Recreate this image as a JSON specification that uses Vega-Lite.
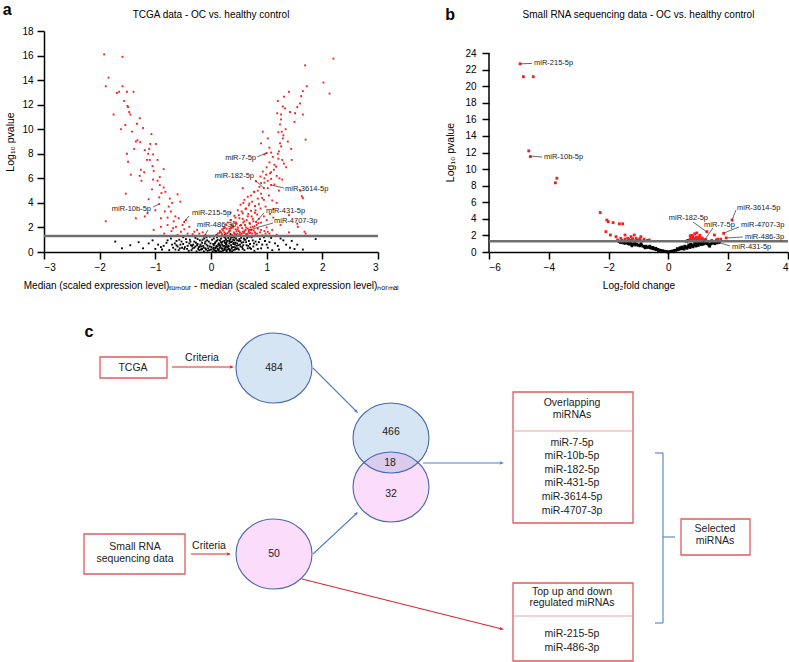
{
"$schema": "https://vega.github.io/schema/vega-lite/v6.json",
"padding": {"left": 2, "top": 2, "right": 0, "bottom": 0},
"background": "white",
"config": {
 "view": {"stroke": null},
 "font": "Liberation Sans",
 "axis": {"grid": false, "domainColor": "#000", "domainWidth": 1.5, "tickColor": "#000", "tickWidth": 1.5, "tickSize": 7, "labelFont": "Liberation Sans", "labelFontSize": 10, "labelColor": "#000", "labelPadding": 4, "titleFont": "Liberation Sans", "titleFontSize": 10.5, "titleFontWeight": "normal", "titleColor": "#000"}
},
"datasets": {
 "aRed": [
{"x":-1.92,"y":16.1},{"x":-1.59,"y":15.9},{"x":-1.84,"y":14.2},{"x":-1.89,"y":13.5},{"x":-1.59,"y":13.5},{"x":-1.65,"y":13.05},{"x":-1.69,"y":12.95},{"x":-1.51,"y":13.05},{"x":-1.39,"y":13.05},{"x":-1.56,"y":12.3},{"x":-1.5,"y":11.9},{"x":-1.49,"y":11.8},{"x":-1.75,"y":11.2},{"x":-1.45,"y":11.2},{"x":-1.47,"y":11.4},{"x":-1.28,"y":10.9},{"x":-1.33,"y":10.45},{"x":-1.54,"y":10.35},{"x":-1.62,"y":10.0},{"x":-1.42,"y":9.8},{"x":-1.07,"y":9.6},{"x":-1.32,"y":9.1},{"x":-1.35,"y":9.0},{"x":-1.27,"y":8.95},{"x":-1.09,"y":8.8},{"x":-0.99,"y":8.8},{"x":-1.19,"y":8.3},{"x":-1.11,"y":8.4},{"x":-1.13,"y":8.0},{"x":-1.04,"y":7.95},{"x":-1.51,"y":8.0},{"x":-1.15,"y":7.5},{"x":-1.1,"y":7.5},{"x":-0.96,"y":7.5},{"x":-1.49,"y":7.35},{"x":-1.05,"y":7.0},{"x":-1.26,"y":6.7},{"x":-0.85,"y":6.75},{"x":-1.2,"y":6.5},{"x":-1.03,"y":6.6},{"x":-0.92,"y":6.1},{"x":-1.04,"y":5.9},{"x":-1.44,"y":6.3},{"x":-1.25,"y":5.8},{"x":-0.96,"y":5.8},{"x":-0.92,"y":5.45},{"x":-0.85,"y":5.25},{"x":-0.89,"y":4.8},{"x":-1.53,"y":4.75},{"x":-0.6,"y":4.7},{"x":-0.82,"y":4.9},{"x":-0.74,"y":4.35},{"x":-0.93,"y":4.45},{"x":-0.7,"y":4.0},{"x":-0.55,"y":4.1},{"x":-0.76,"y":3.7},{"x":-0.83,"y":3.3},{"x":-0.72,"y":3.3},{"x":-0.64,"y":2.9},{"x":-0.58,"y":2.75},{"x":-0.9,"y":2.75},{"x":-1.19,"y":2.9},{"x":-1.89,"y":2.5},{"x":-0.67,"y":2.5},{"x":-0.51,"y":2.2},{"x":-0.78,"y":2.2},{"x":-0.63,"y":2.05},{"x":-0.9,"y":2.05},{"x":-0.48,"y":1.85},{"x":-0.39,"y":2.05},{"x":-0.54,"y":1.65},{"x":-0.71,"y":1.7},{"x":-1.03,"y":1.8},{"x":-0.3,"y":1.65},{"x":-0.21,"y":1.5},{"x":-0.84,"y":1.5},{"x":-0.42,"y":1.5},{"x":-0.93,"y":3.9},{"x":-0.48,"y":2.44},{"x":-1.35,"y":2.75},{"x":-1.14,"y":3.15},{"x":-0.1,"y":1.4},{"x":-0.15,"y":1.6},{"x":-0.25,"y":1.8},{"x":-0.33,"y":1.45},{"x":-0.6,"y":1.4},{"x":-0.68,"y":1.95},{"x":-1.0,"y":3.4},{"x":-1.12,"y":4.3},{"x":-1.06,"y":5.1},{"x":-1.28,"y":6.2},{"x":-1.38,"y":8.4},{"x":-1.22,"y":10.1},{"x":-0.78,"y":2.8},{"x":-0.45,"y":2.6},
{"x":2.2,"y":15.75},{"x":1.69,"y":15.2},{"x":2.02,"y":13.8},{"x":2.13,"y":12.9},{"x":1.72,"y":13.5},{"x":1.65,"y":13.1},{"x":1.4,"y":13.05},{"x":1.31,"y":12.65},{"x":1.62,"y":12.7},{"x":1.2,"y":12.3},{"x":1.6,"y":12.1},{"x":1.29,"y":11.85},{"x":1.33,"y":11.7},{"x":1.42,"y":11.4},{"x":1.19,"y":11.3},{"x":1.26,"y":11.2},{"x":1.65,"y":11.2},{"x":1.51,"y":11.3},{"x":1.26,"y":10.8},{"x":1.24,"y":10.4},{"x":1.21,"y":9.75},{"x":1.27,"y":9.8},{"x":0.93,"y":9.8},{"x":1.29,"y":9.25},{"x":1.7,"y":9.15},{"x":1.02,"y":9.25},{"x":1.24,"y":8.85},{"x":0.9,"y":8.85},{"x":1.05,"y":8.5},{"x":1.22,"y":8.2},{"x":1.08,"y":8.1},{"x":0.96,"y":7.95},{"x":1.11,"y":7.75},{"x":1.21,"y":7.6},{"x":1.28,"y":7.5},{"x":1.31,"y":7.2},{"x":1.05,"y":7.3},{"x":1.17,"y":6.95},{"x":1.0,"y":6.9},{"x":1.13,"y":6.7},{"x":0.93,"y":6.55},{"x":1.06,"y":6.4},{"x":0.99,"y":6.3},{"x":0.89,"y":6.15},{"x":1.23,"y":6.0},{"x":1.08,"y":5.95},{"x":0.81,"y":5.75},{"x":0.96,"y":5.65},{"x":1.14,"y":5.5},{"x":0.87,"y":5.3},{"x":0.57,"y":5.2},{"x":1.02,"y":5.2},{"x":1.63,"y":4.55},{"x":0.77,"y":4.9},{"x":0.9,"y":4.75},{"x":0.72,"y":4.6},{"x":0.84,"y":4.35},{"x":0.6,"y":4.25},{"x":0.95,"y":4.25},{"x":0.69,"y":3.95},{"x":0.53,"y":3.85},{"x":0.79,"y":3.75},{"x":0.89,"y":3.55},{"x":0.63,"y":3.55},{"x":0.48,"y":3.4},{"x":0.72,"y":3.35},{"x":0.35,"y":3.2},{"x":0.57,"y":3.15},{"x":0.83,"y":3.05},{"x":0.42,"y":2.95},{"x":0.66,"y":2.9},{"x":0.51,"y":2.75},{"x":0.75,"y":2.7},{"x":0.36,"y":2.6},{"x":0.6,"y":2.5},{"x":0.45,"y":2.4},{"x":0.69,"y":2.35},{"x":0.27,"y":2.25},{"x":0.54,"y":2.2},{"x":0.78,"y":2.1},{"x":0.39,"y":2.05},{"x":0.63,"y":2.0},{"x":0.23,"y":1.95},{"x":0.48,"y":1.85},{"x":0.72,"y":1.8},{"x":0.33,"y":1.7},{"x":0.57,"y":1.65},{"x":0.18,"y":1.6},{"x":0.42,"y":1.5},{"x":0.66,"y":1.5},{"x":0.27,"y":1.45},{"x":0.51,"y":1.45},{"x":1.68,"y":1.65},{"x":1.56,"y":2.05},
{"x":1.0,"y":8.06},{"x":0.95,"y":5.21},{"x":1.08,"y":5.46},{"x":0.81,"y":2.44},{"x":0.68,"y":1.79},
{"x":0.12,"y":1.5},{"x":0.16,"y":1.7},{"x":0.2,"y":1.45},{"x":0.24,"y":1.6},{"x":0.28,"y":1.9},{"x":0.3,"y":1.55},{"x":0.34,"y":1.75},{"x":0.38,"y":1.4},{"x":0.41,"y":1.6},{"x":0.44,"y":1.85},{"x":0.47,"y":1.5},{"x":0.5,"y":1.7},{"x":0.53,"y":1.4},{"x":0.56,"y":1.95},{"x":0.59,"y":1.55},{"x":0.62,"y":1.8},{"x":0.65,"y":1.4},{"x":0.68,"y":1.65},{"x":0.71,"y":2.0},{"x":0.74,"y":1.5},{"x":0.77,"y":1.75},{"x":0.8,"y":1.45},{"x":0.84,"y":1.9},{"x":0.88,"y":1.6},{"x":0.92,"y":1.35},{"x":0.96,"y":1.7},{"x":1.0,"y":2.0},{"x":1.05,"y":1.5},{"x":1.1,"y":1.8},{"x":1.18,"y":1.4},{"x":1.25,"y":2.2},{"x":1.4,"y":1.6},{"x":0.4,"y":2.1},{"x":0.46,"y":2.3},{"x":0.52,"y":2.15},{"x":0.58,"y":2.4},{"x":0.64,"y":2.6},{"x":0.7,"y":2.3},{"x":0.76,"y":2.5},{"x":0.82,"y":2.2},{"x":0.86,"y":2.7},{"x":0.9,"y":2.4},{"x":0.95,"y":2.9},{"x":1.0,"y":2.6},{"x":1.06,"y":3.1},{"x":1.12,"y":2.8},{"x":0.3,"y":2.4},{"x":0.25,"y":2.0},{"x":0.2,"y":1.85},{"x":0.35,"y":2.6},{"x":0.44,"y":2.8},{"x":0.5,"y":3.0},{"x":0.55,"y":3.3},{"x":0.62,"y":3.5},{"x":0.68,"y":3.8},{"x":0.74,"y":4.1},{"x":0.8,"y":3.4},{"x":0.86,"y":3.9},{"x":0.92,"y":4.4},{"x":0.98,"y":3.7},{"x":1.04,"y":4.6},{"x":1.1,"y":4.2},{"x":0.58,"y":4.0},{"x":0.66,"y":4.5},{"x":0.78,"y":4.9},{"x":0.84,"y":5.0},{"x":0.9,"y":5.6},{"x":0.96,"y":6.0},{"x":1.02,"y":5.8},{"x":1.08,"y":6.5},{"x":1.14,"y":7.1},{"x":1.18,"y":6.2},{"x":1.2,"y":8.0},{"x":1.26,"y":8.6},{"x":1.3,"y":9.5},{"x":1.34,"y":10.0},{"x":1.38,"y":9.0},{"x":1.44,"y":8.4},{"x":1.5,"y":10.6},{"x":1.55,"y":11.8},{"x":1.45,"y":7.5},{"x":1.35,"y":6.9},{"x":1.28,"y":5.9},{"x":1.22,"y":5.0},{"x":1.18,"y":4.0},{"x":1.12,"y":3.5},{"x":1.6,"y":5.0},{"x":1.65,"y":4.4},{"x":1.7,"y":1.5},{"x":1.55,"y":2.3},{"x":1.4,"y":3.0},
{"x":0.15,"y":1.55},{"x":0.22,"y":1.75},{"x":0.26,"y":1.5},{"x":0.32,"y":1.65},{"x":0.36,"y":1.95},{"x":0.43,"y":1.45},{"x":0.46,"y":1.7},{"x":0.52,"y":1.6},{"x":0.55,"y":1.5},{"x":0.6,"y":1.7},{"x":0.63,"y":1.45},{"x":0.66,"y":1.9},{"x":0.7,"y":1.55},{"x":0.73,"y":1.8},{"x":0.79,"y":1.6},{"x":0.83,"y":1.5},{"x":0.9,"y":1.8},{"x":0.98,"y":1.5},{"x":1.02,"y":1.65},{"x":0.37,"y":2.2},{"x":0.48,"y":2.0},{"x":0.61,"y":2.2},{"x":0.75,"y":2.05},{"x":0.85,"y":2.35},{"x":0.33,"y":1.9},{"x":0.41,"y":2.45},{"x":0.57,"y":2.7},{"x":0.67,"y":3.1},{"x":0.73,"y":2.9},{"x":0.79,"y":3.2}
 ],
 "aBlack": [
{"x":-1.72,"y":0.85},{"x":-1.45,"y":0.55},{"x":-1.22,"y":0.3},{"x":-1.05,"y":0.95},{"x":-0.95,"y":0.6},{"x":-0.88,"y":0.2},{"x":-0.8,"y":0.75},{"x":-0.72,"y":1.1},{"x":-0.68,"y":0.35},{"x":-0.62,"y":0.9},{"x":-0.58,"y":0.15},{"x":-0.55,"y":0.6},{"x":-0.5,"y":1.2},{"x":-0.47,"y":0.4},{"x":-0.44,"y":0.8},{"x":-0.4,"y":0.1},{"x":-0.38,"y":1.0},{"x":-0.36,"y":0.55},{"x":-0.33,"y":0.3},{"x":-0.3,"y":0.85},{"x":-0.28,"y":1.15},{"x":-0.26,"y":0.05},{"x":-0.24,"y":0.65},{"x":-0.22,"y":0.4},{"x":-0.2,"y":0.95},{"x":-0.18,"y":0.2},{"x":-0.16,"y":0.75},{"x":-0.14,"y":0.5},{"x":-0.12,"y":1.1},{"x":-0.1,"y":0.3},{"x":-0.08,"y":0.6},{"x":-0.06,"y":0.1},{"x":-0.04,"y":0.85},{"x":-0.02,"y":0.45},{"x":0.0,"y":0.2},{"x":0.02,"y":1.0},{"x":0.04,"y":0.65},{"x":0.05,"y":0.35},{"x":0.07,"y":0.1},{"x":0.08,"y":0.8},{"x":0.1,"y":0.5},{"x":0.11,"y":1.2},{"x":0.12,"y":0.25},{"x":0.14,"y":0.7},{"x":0.15,"y":0.05},{"x":0.16,"y":0.95},{"x":0.17,"y":0.45},{"x":0.18,"y":1.1},{"x":0.19,"y":0.3},{"x":0.2,"y":0.6},{"x":0.21,"y":0.85},{"x":0.22,"y":0.15},{"x":0.23,"y":1.25},{"x":0.24,"y":0.5},{"x":0.25,"y":0.75},{"x":0.26,"y":0.35},{"x":0.27,"y":1.0},{"x":0.28,"y":0.6},{"x":0.29,"y":0.2},{"x":0.3,"y":0.9},{"x":0.31,"y":1.15},{"x":0.32,"y":0.45},{"x":0.33,"y":0.7},{"x":0.34,"y":0.1},{"x":0.35,"y":1.05},{"x":0.36,"y":0.55},{"x":0.37,"y":0.3},{"x":0.38,"y":0.85},{"x":0.39,"y":1.2},{"x":0.4,"y":0.65},{"x":0.41,"y":0.4},{"x":0.42,"y":0.95},{"x":0.43,"y":0.2},{"x":0.44,"y":0.75},{"x":0.45,"y":1.1},{"x":0.46,"y":0.5},{"x":0.48,"y":0.3},{"x":0.5,"y":0.9},{"x":0.52,"y":0.6},{"x":0.54,"y":1.15},{"x":0.56,"y":0.4},{"x":0.58,"y":0.8},{"x":0.6,"y":0.15},{"x":0.62,"y":1.0},{"x":0.64,"y":0.55},{"x":0.66,"y":0.3},{"x":0.68,"y":0.9},{"x":0.7,"y":0.65},{"x":0.73,"y":1.2},{"x":0.76,"y":0.45},{"x":0.8,"y":0.85},{"x":0.84,"y":0.25},{"x":0.88,"y":1.05},{"x":0.92,"y":0.6},{"x":0.97,"y":0.9},{"x":1.02,"y":0.35},{"x":1.08,"y":1.15},{"x":1.15,"y":0.7},{"x":1.22,"y":0.2},{"x":1.3,"y":0.95},{"x":1.42,"y":0.35},{"x":1.55,"y":0.6},{"x":1.65,"y":0.2},{"x":1.88,"y":1.05},
{"x":0.03,"y":0.05},{"x":0.06,"y":0.15},{"x":0.09,"y":0.08},{"x":0.13,"y":0.12},{"x":0.18,"y":0.02},{"x":0.21,"y":0.1},{"x":0.25,"y":0.18},{"x":0.28,"y":0.08},{"x":0.32,"y":0.25},{"x":0.35,"y":0.15},{"x":0.38,"y":0.05},{"x":0.05,"y":0.55},{"x":0.09,"y":0.4},{"x":0.13,"y":0.6},{"x":0.16,"y":0.35},{"x":0.2,"y":0.28},{"x":0.24,"y":0.9},{"x":0.27,"y":0.45},{"x":0.3,"y":0.38},{"x":0.33,"y":0.95},{"x":0.36,"y":0.8},{"x":0.4,"y":1.0},{"x":0.43,"y":0.6},{"x":0.47,"y":0.7},{"x":0.5,"y":0.2},{"x":0.53,"y":0.45},{"x":-0.05,"y":0.3},{"x":-0.09,"y":0.2},{"x":-0.13,"y":0.05},{"x":-0.17,"y":0.45},{"x":-0.21,"y":0.15},{"x":-0.25,"y":0.55},{"x":-0.3,"y":0.35},{"x":-0.35,"y":0.15},{"x":-0.42,"y":0.5},{"x":-0.48,"y":0.25},{"x":-0.53,"y":0.85},{"x":-0.6,"y":0.45},{"x":-0.65,"y":0.7},{"x":-0.75,"y":0.15},{"x":-0.85,"y":0.5},{"x":-1.0,"y":0.25},{"x":-1.12,"y":0.7},{"x":0.15,"y":1.3},{"x":0.2,"y":1.35},{"x":0.25,"y":1.4},{"x":0.3,"y":1.28},{"x":0.35,"y":1.45},{"x":0.4,"y":1.3},{"x":0.1,"y":1.38},{"x":0.45,"y":1.36},{"x":0.55,"y":1.3},{"x":0.6,"y":1.0},{"x":0.65,"y":1.15},{"x":0.7,"y":0.35},{"x":0.75,"y":0.95},{"x":0.78,"y":0.1},{"x":0.82,"y":0.6},{"x":0.9,"y":0.3},{"x":0.95,"y":1.2},{"x":1.0,"y":0.6},{"x":1.05,"y":0.8},{"x":1.1,"y":0.15},{"x":1.2,"y":0.5},{"x":1.25,"y":1.1},{"x":1.35,"y":0.6},{"x":1.45,"y":0.9},{"x":1.5,"y":0.25},{"x":-0.02,"y":1.25},{"x":-0.07,"y":0.95},{"x":-0.11,"y":0.7},{"x":-0.15,"y":1.0},{"x":-0.19,"y":0.6},{"x":-0.23,"y":0.25},{"x":-0.27,"y":0.75},{"x":-0.32,"y":0.6},{"x":-0.37,"y":0.85},{"x":-0.45,"y":1.05},{"x":-0.52,"y":0.35},{"x":-0.57,"y":1.0},{"x":-0.64,"y":0.2},{"x":-0.7,"y":0.6},{"x":-0.78,"y":0.95},{"x":-0.9,"y":0.4},{"x":-1.3,"y":0.8},{"x":-1.6,"y":0.3},
{"x":0.01,"y":0.4},{"x":0.04,"y":0.25},{"x":0.07,"y":0.7},{"x":0.1,"y":0.9},{"x":0.12,"y":0.45},{"x":0.14,"y":0.2},{"x":0.16,"y":0.55},{"x":0.19,"y":0.75},{"x":0.22,"y":0.5},{"x":0.24,"y":0.3},{"x":0.26,"y":1.1},{"x":0.28,"y":0.8},{"x":0.31,"y":0.5},{"x":0.33,"y":0.2},{"x":0.36,"y":1.2},{"x":0.38,"y":0.4},{"x":0.41,"y":0.75},{"x":0.44,"y":0.35},{"x":0.47,"y":0.95},{"x":0.49,"y":0.55},{"x":0.51,"y":1.05},{"x":0.55,"y":0.75},{"x":0.57,"y":0.25},{"x":0.59,"y":1.1},{"x":0.63,"y":0.8},{"x":0.67,"y":0.5},{"x":0.69,"y":1.25},{"x":0.72,"y":0.25},{"x":0.77,"y":0.7},{"x":0.86,"y":0.8},{"x":-0.01,"y":0.7},{"x":-0.03,"y":0.15},{"x":-0.06,"y":0.5},{"x":-0.08,"y":1.2},{"x":-0.1,"y":0.85},{"x":-0.13,"y":0.35},{"x":-0.16,"y":0.25},{"x":-0.2,"y":0.45},{"x":-0.24,"y":1.05},{"x":-0.28,"y":0.45},{"x":-0.34,"y":0.5},{"x":-0.39,"y":0.7},{"x":-0.43,"y":0.25},{"x":-0.5,"y":0.65},{"x":-0.56,"y":0.3},{"x":-0.62,"y":0.55},{"x":0.12,"y":1.0},{"x":0.18,"y":0.8},{"x":0.27,"y":0.65},{"x":0.34,"y":0.85},{"x":0.4,"y":0.15},{"x":0.46,"y":0.25},{"x":0.53,"y":0.9},{"x":0.58,"y":0.55},{"x":0.25,"y":1.22},{"x":0.33,"y":1.32},{"x":0.42,"y":1.18},{"x":0.05,"y":1.1},{"x":0.08,"y":0.3},{"x":0.15,"y":0.6}
 ],
 "aLinks": [
{"x":0.83,"y":7.75,"x2":1.0,"y2":8.06},{"x":0.79,"y":5.86,"x2":0.95,"y2":5.21},{"x":1.311,"y":5.21,"x2":1.078,"y2":5.46},{"x":-1.04,"y":3.66,"x2":-0.93,"y2":3.91},{"x":-0.395,"y":2.93,"x2":-0.485,"y2":2.44},{"x":-0.054,"y":1.79,"x2":-0.18,"y2":0.81},{"x":0.952,"y":3.18,"x2":0.808,"y2":2.44},{"x":1.114,"y":2.36,"x2":0.682,"y2":1.79}
 ],
 "aLabelsEnd": [
{"x":0.808,"y":7.65,"t":"miR-7-5p"},{"x":0.772,"y":6.19,"t":"miR-182-5p"},{"x":-1.078,"y":3.5,"t":"miR-10b-5p"}
 ],
 "aLabelsStart": [
{"x":1.329,"y":5.13,"t":"miR-3614-5p"},{"x":-0.342,"y":3.18,"t":"miR-215-5p"},{"x":-0.252,"y":2.2,"t":"miR-486-3p"},{"x":0.988,"y":3.34,"t":"miR-431-5p"},{"x":1.132,"y":2.52,"t":"miR-4707-3p"}
 ],
 "bRed": [
{"x":-4.96,"y":22.7},{"x":-4.85,"y":21.15},{"x":-4.52,"y":21.15},{"x":-4.67,"y":12.2},{"x":-4.62,"y":11.5},{"x":-3.73,"y":8.9},{"x":-3.78,"y":8.35},{"x":-2.28,"y":4.75},{"x":-2.06,"y":3.85},{"x":-2.01,"y":3.65},{"x":-1.85,"y":3.55},{"x":-1.64,"y":3.4},{"x":-1.53,"y":3.4},{"x":-2.09,"y":2.45},{"x":-1.94,"y":2.05},{"x":-1.75,"y":1.85},{"x":-1.59,"y":1.65},{"x":-1.45,"y":2.05},{"x":-1.36,"y":1.65},{"x":-1.25,"y":1.85},{"x":-1.14,"y":2.05},{"x":-1.08,"y":1.65},{"x":-0.92,"y":1.85},{"x":-0.81,"y":1.55},{"x":-0.64,"y":1.45},{"x":-1.7,"y":1.45},{"x":-1.25,"y":1.4},{"x":-0.98,"y":1.45},{"x":-1.2,"y":1.6},{"x":-1.05,"y":1.45},{"x":-0.95,"y":1.6},{"x":-0.85,"y":1.35},{"x":-1.15,"y":1.35},{"x":-1.32,"y":1.5},{"x":-1.45,"y":1.55},{"x":-1.55,"y":1.4},{"x":-0.7,"y":1.4},
{"x":0.68,"y":1.35},{"x":0.72,"y":1.5},{"x":0.75,"y":1.7},{"x":0.78,"y":1.4},{"x":0.8,"y":1.6},{"x":0.82,"y":1.85},{"x":0.85,"y":1.45},{"x":0.87,"y":1.65},{"x":0.9,"y":1.35},{"x":0.92,"y":1.55},{"x":0.94,"y":1.8},{"x":0.96,"y":1.4},{"x":0.98,"y":1.6},{"x":1.0,"y":1.5},{"x":1.02,"y":1.75},{"x":1.05,"y":1.4},{"x":1.08,"y":1.6},{"x":1.1,"y":1.45},{"x":1.13,"y":1.7},{"x":1.16,"y":1.5},{"x":1.2,"y":1.4},{"x":0.88,"y":2.2},{"x":0.95,"y":2.3},{"x":0.79,"y":2.0},{"x":1.05,"y":2.0},{"x":0.73,"y":1.95},{"x":1.29,"y":2.45},{"x":1.54,"y":2.05},{"x":1.85,"y":2.25},{"x":1.93,"y":1.7},{"x":2.13,"y":3.85},{"x":1.65,"y":1.55},{"x":1.75,"y":1.55},{"x":1.6,"y":1.45},{"x":1.45,"y":1.4},{"x":1.25,"y":1.5}
 ],
 "bBlack": [
{"x":-1.65,"y":1.25},{"x":-1.6,"y":1.15},{"x":-1.55,"y":1.2},{"x":-1.5,"y":1.1},{"x":-1.45,"y":1.05},{"x":-1.4,"y":1.15},{"x":-1.35,"y":1.0},{"x":-1.3,"y":0.95},{"x":-1.25,"y":1.05},{"x":-1.2,"y":0.9},{"x":-1.15,"y":1.0},{"x":-1.1,"y":0.85},{"x":-1.05,"y":0.95},{"x":-1.0,"y":0.8},{"x":-0.95,"y":0.75},{"x":-0.9,"y":0.85},{"x":-0.85,"y":0.7},{"x":-0.8,"y":0.65},{"x":-0.75,"y":0.7},{"x":-0.7,"y":0.55},{"x":-0.65,"y":0.6},{"x":-0.6,"y":0.5},{"x":-0.55,"y":0.45},{"x":-0.5,"y":0.4},{"x":-0.45,"y":0.35},{"x":-0.4,"y":0.3},{"x":-0.35,"y":0.3},{"x":-0.3,"y":0.22},{"x":-0.25,"y":0.18},{"x":-0.2,"y":0.15},{"x":-0.15,"y":0.1},{"x":-0.1,"y":0.06},{"x":-0.05,"y":0.03},{"x":0,"y":0},{"x":-0.92,"y":1.0},{"x":-1.12,"y":1.15},{"x":-0.62,"y":0.7},{"x":-0.42,"y":0.45},{"x":-0.78,"y":0.5},{"x":-1.32,"y":1.2},{"x":-0.52,"y":0.55},{"x":-0.33,"y":0.15},{"x":-1.22,"y":0.75},
{"x":0.05,"y":0.04},{"x":0.1,"y":0.08},{"x":0.15,"y":0.12},{"x":0.2,"y":0.18},{"x":0.25,"y":0.22},{"x":0.3,"y":0.28},{"x":0.35,"y":0.33},{"x":0.4,"y":0.38},{"x":0.45,"y":0.42},{"x":0.5,"y":0.48},{"x":0.55,"y":0.52},{"x":0.6,"y":0.58},{"x":0.65,"y":0.62},{"x":0.7,"y":0.68},{"x":0.75,"y":0.72},{"x":0.8,"y":0.8},{"x":0.85,"y":0.85},{"x":0.9,"y":0.9},{"x":0.95,"y":0.95},{"x":1.0,"y":1.0},{"x":1.05,"y":1.05},{"x":1.1,"y":1.1},{"x":1.15,"y":1.15},{"x":1.2,"y":1.2},{"x":0.45,"y":0.6},{"x":0.55,"y":0.7},{"x":0.62,"y":0.45},{"x":0.68,"y":0.85},{"x":0.75,"y":0.95},{"x":0.82,"y":0.62},{"x":0.88,"y":1.05},{"x":0.95,"y":1.15},{"x":1.0,"y":0.8},{"x":1.08,"y":1.2},{"x":1.15,"y":0.95},{"x":1.25,"y":1.1},{"x":1.3,"y":1.0},{"x":1.35,"y":0.85},{"x":1.4,"y":0.95},{"x":1.45,"y":1.05},{"x":1.38,"y":0.7},{"x":1.5,"y":1.15},{"x":1.55,"y":1.0},{"x":1.62,"y":1.1},{"x":1.7,"y":1.15},{"x":1.32,"y":1.2},{"x":1.2,"y":1.0},{"x":0.38,"y":0.5},{"x":0.3,"y":0.4},{"x":0.52,"y":0.35},{"x":0.72,"y":0.55},{"x":0.92,"y":0.72},{"x":1.1,"y":0.9},{"x":0.6,"y":1.3},{"x":0.66,"y":1.4}
 ],
 "bLinks": [
{"x":-4.96,"y":22.7,"x2":-4.56,"y2":22.75},{"x":-4.63,"y":11.58,"x2":-4.23,"y2":11.46},{"x":2.26,"y":5.07,"x2":2.13,"y2":3.86},{"x":0.82,"y":3.62,"x2":1.29,"y2":2.41},{"x":1.49,"y":2.9,"x2":1.16,"y2":1.2},{"x":2.36,"y":3.02,"x2":1.86,"y2":2.29},{"x":2.49,"y":1.81,"x2":1.93,"y2":1.69},{"x":2.06,"y":0.72,"x2":1.66,"y2":1.2}
 ],
 "bLabelsStart": [
{"x":-4.495,"y":22.8,"t":"miR-215-5p"},{"x":-4.16,"y":11.46,"t":"miR-10b-5p"},{"x":2.294,"y":5.31,"t":"miR-3614-5p"},{"x":1.19,"y":3.26,"t":"miR-7-5p"},{"x":2.43,"y":3.26,"t":"miR-4707-3p"},{"x":2.56,"y":1.81,"t":"miR-486-3p"},{"x":2.13,"y":0.6,"t":"miR-431-5p"}
 ],
 "bLabelsEnd": [
{"x":1.324,"y":4.1,"t":"miR-182-5p"}
 ],
 "boxes": [
{"x":99,"x2":166,"y":357,"y2":378},{"x":83,"x2":184,"y":534,"y2":574},{"x":512,"x2":632,"y":392,"y2":523},{"x":512,"x2":632,"y":583,"y2":661},{"x":680,"x2":749,"y":519,"y2":555}
 ],
 "dividers": [
{"x":512,"x2":632,"y":431,"y2":431},{"x":512,"x2":632,"y":616,"y2":616}
 ],
 "redLinks": [
{"x":171,"y":367,"x2":231,"y2":367},{"x":190,"y":554,"x2":228,"y2":554},{"x":301,"y":579,"x2":501,"y2":629}
 ],
 "redHeads": [
{"x":233,"y":367,"a":90},{"x":230,"y":554,"a":90},{"x":503,"y":629.5,"a":104}
 ],
 "blueLinks": [
{"x":312,"y":368,"x2":356,"y2":412},{"x":312,"y":554,"x2":356,"y2":513},{"x":422,"y":463,"x2":501,"y2":463},
{"x":662,"y":453,"x2":662,"y2":623},{"x":654,"y":453,"x2":662,"y2":453},{"x":654,"y":623,"x2":662,"y2":623},{"x":662,"y":537,"x2":674,"y2":537}
 ],
 "blueHeads": [
{"x":357,"y":413,"a":135},{"x":357,"y":512,"a":47},{"x":503,"y":463,"a":90}
 ],
 "circles": [
{"x":273,"y":368,"set":"TCGA"},{"x":390,"y":438,"set":"TCGA"},{"x":390,"y":487,"set":"RNA"},{"x":273,"y":554,"set":"RNA"}
 ],
 "lens": [{"x":390,"y":462.5}],
 "texts": [
{"x":132,"y":367.5,"t":"TCGA"},{"x":201,"y":358,"t":"Criteria"},{"x":273,"y":368,"t":"484"},{"x":390,"y":432,"t":"466"},{"x":389,"y":463,"t":"18"},{"x":390,"y":494,"t":"32"},{"x":134,"y":547,"t":"Small RNA"},{"x":134,"y":559,"t":"sequencing data"},{"x":208,"y":546,"t":"Criteria"},{"x":273,"y":554,"t":"50"},{"x":571,"y":403,"t":"Overlapping"},{"x":571,"y":415,"t":"miRNAs"},{"x":571,"y":443,"t":"miR-7-5p"},{"x":571,"y":456,"t":"miR-10b-5p"},{"x":571,"y":470,"t":"miR-182-5p"},{"x":571,"y":483,"t":"miR-431-5p"},{"x":571,"y":497,"t":"miR-3614-5p"},{"x":571,"y":511,"t":"miR-4707-3p"},{"x":571,"y":592,"t":"Top up and down"},{"x":571,"y":603,"t":"regulated miRNAs"},{"x":571,"y":634,"t":"miR-215-5p"},{"x":571,"y":648,"t":"miR-486-3p"},{"x":714,"y":529,"t":"Selected"},{"x":714,"y":541,"t":"miRNAs"}
 ]
},
"bounds": "flush",
"columns": 2,
"spacing": {"row": 48, "column": 111},
"concat": [
   {
    "width": 334, "height": 221,
    "encoding": {
     "x": {"field": "x", "type": "quantitative", "scale": {"domain": [-3, 3], "nice": false, "zero": false}, "axis": {"values": [-3,-2,-1,0,1,2,3], "title": "Median (scaled expression level)ₜᵤₘₒᵤᵣ - median (scaled scaled expression level)ₙₒᵣₘₐₗ", "titlePadding": 8, "titleFontSize": 10, "labelPadding": 3}},
     "y": {"field": "y", "type": "quantitative", "scale": {"domain": [0, 18], "nice": false, "zero": false}, "axis": {"values": [0,2,4,6,8,10,12,14,16,18], "title": "Log₁₀ pvalue", "titlePadding": 6}}
    },
    "layer": [
     {"data": {"name": "aBlack"}, "mark": {"type": "square", "size": 3.5, "color": "#000", "opacity": 1}},
     {"data": {"name": "aRed"}, "mark": {"type": "square", "size": 3.5, "color": "#ff1a1a", "opacity": 1}},
     {"data": {"values": [{"x": -3, "x2": 3, "y": 1.3}]}, "mark": {"type": "rule", "color": "#707070", "strokeWidth": 2.5}, "encoding": {"x2": {"field": "x2"}}},
     {"data": {"name": "aLinks"}, "mark": {"type": "rule", "color": "#444", "strokeWidth": 0.8}, "encoding": {"x2": {"field": "x2"}, "y2": {"field": "y2"}}},
     {"data": {"name": "aLabelsEnd"}, "mark": {"type": "text", "align": "right", "baseline": "middle", "fontSize": 7.5, "color": "#222"}, "encoding": {"text": {"field": "t"}}},
     {"data": {"name": "aLabelsStart"}, "mark": {"type": "text", "align": "left", "baseline": "middle", "fontSize": 7.5, "color": "#222"}, "encoding": {"text": {"field": "t"}}},
     {"data": {"values": [{"x": 0, "y": 19.3, "t": "TCGA data - OC vs. healthy control"}]}, "mark": {"type": "text", "align": "center", "baseline": "middle", "fontSize": 10, "color": "#000"}, "encoding": {"text": {"field": "t"}}},
     {"data": {"values": [{"x": -3.66, "y": 19.7, "t": "a"}]}, "mark": {"type": "text", "align": "center", "baseline": "middle", "fontSize": 16, "fontWeight": "bold", "color": "#000"}, "encoding": {"text": {"field": "t"}}}
    ]
   },
   {
    "width": 299, "height": 221,
    "encoding": {
     "x": {"field": "x", "type": "quantitative", "scale": {"domain": [-6, 4], "nice": false, "zero": false}, "axis": {"values": [-6,-4,-2,0,2,4], "title": "Log₂fold change", "titlePadding": 8, "titleFontSize": 10, "labelPadding": 3}},
     "y": {"field": "y", "type": "quantitative", "scale": {"domain": [0, 26.66], "nice": false, "zero": false}, "axis": {"values": [0,2,4,6,8,10,12,14,16,18,20,22,24], "title": "Log₁₀ pvalue", "titlePadding": 9, "labelPadding": 6, "domain": false, "titleY": 121}}
    },
    "layer": [
     {"data": {"values": [{"x": -6, "y": 0, "y2": 24}]}, "mark": {"type": "rule", "color": "#000", "strokeWidth": 1.5}, "encoding": {"y2": {"field": "y2"}}},
     {"data": {"name": "bBlack"}, "mark": {"type": "square", "size": 8, "color": "#000", "opacity": 1}},
     {"data": {"name": "bRed"}, "mark": {"type": "square", "size": 8, "color": "#ff1a1a", "opacity": 1}},
     {"data": {"values": [{"x": -6, "x2": 4, "y": 1.3}]}, "mark": {"type": "rule", "color": "#707070", "strokeWidth": 2.5}, "encoding": {"x2": {"field": "x2"}}},
     {"data": {"name": "bLinks"}, "mark": {"type": "rule", "color": "#444", "strokeWidth": 0.8}, "encoding": {"x2": {"field": "x2"}, "y2": {"field": "y2"}}},
     {"data": {"name": "bLabelsEnd"}, "mark": {"type": "text", "align": "right", "baseline": "middle", "fontSize": 7.5, "color": "#222"}, "encoding": {"text": {"field": "t"}}},
     {"data": {"name": "bLabelsStart"}, "mark": {"type": "text", "align": "left", "baseline": "middle", "fontSize": 7.5, "color": "#222"}, "encoding": {"text": {"field": "t"}}},
     {"data": {"values": [{"x": -1.0, "y": 28.6, "t": "Small RNA sequencing data - OC vs. healthy control"}]}, "mark": {"type": "text", "align": "center", "baseline": "middle", "fontSize": 10, "color": "#000"}, "encoding": {"text": {"field": "t"}}},
     {"data": {"values": [{"x": -7.3, "y": 28.6, "t": "b"}]}, "mark": {"type": "text", "align": "center", "baseline": "middle", "fontSize": 16, "fontWeight": "bold", "color": "#000"}, "encoding": {"text": {"field": "t"}}}
    ]
   },
 {
  "width": 334, "height": 362,
  "encoding": {
   "x": {"field": "x", "type": "quantitative", "scale": {"domain": [43, 377], "nice": false, "zero": false}, "axis": null},
   "y": {"field": "y", "type": "quantitative", "scale": {"domain": [662, 300], "nice": false, "zero": false}, "axis": null}
  },
  "layer": [
   {"data": {"name": "boxes"}, "mark": {"type": "rect", "filled": false, "color": "#e25b5b", "strokeWidth": 1.3}, "encoding": {"x2": {"field": "x2"}, "y2": {"field": "y2"}}},
   {"data": {"name": "dividers"}, "mark": {"type": "rule", "color": "#e8a5a5", "strokeWidth": 1}, "encoding": {"x2": {"field": "x2"}, "y2": {"field": "y2"}}},
   {"data": {"name": "redLinks"}, "mark": {"type": "rule", "color": "#e32424", "strokeWidth": 1.2}, "encoding": {"x2": {"field": "x2"}, "y2": {"field": "y2"}}},
   {"data": {"name": "blueLinks"}, "mark": {"type": "rule", "color": "#4f7fd2", "strokeWidth": 1.1}, "encoding": {"x2": {"field": "x2"}, "y2": {"field": "y2"}}},
   {"data": {"name": "circles"}, "transform": [{"filter": "datum.set === 'TCGA'"}], "mark": {"type": "point", "shape": "M -1 0 A 1 0.921 0 1 1 1 0 A 1 0.921 0 1 1 -1 0 Z", "size": 5776, "filled": true, "color": "#d5e5f4", "opacity": 1, "strokeWidth": 0}},
   {"data": {"name": "circles"}, "transform": [{"filter": "datum.set === 'RNA'"}], "mark": {"type": "point", "shape": "M -1 0 A 1 0.921 0 1 1 1 0 A 1 0.921 0 1 1 -1 0 Z", "size": 5776, "filled": true, "color": "#fbdcfa", "opacity": 1, "strokeWidth": 0}},
   {"data": {"name": "lens"}, "mark": {"type": "point", "shape": "M -0.713 0 A 1 0.921 0 0 1 0.713 0 A 1 0.921 0 0 1 -0.713 0 Z", "size": 5776, "filled": true, "color": "#d9ccef", "opacity": 1, "strokeWidth": 0}},
   {"data": {"name": "circles"}, "mark": {"type": "point", "shape": "M -1 0 A 1 0.921 0 1 1 1 0 A 1 0.921 0 1 1 -1 0 Z", "size": 5776, "filled": false, "color": "#4a68ad", "opacity": 1, "strokeWidth": 1.1}},
   {"data": {"name": "redHeads"}, "mark": {"type": "point", "shape": "M 0 0 L 0.55 1.5 L 0 1.15 L -0.55 1.5 Z", "size": 36, "filled": true, "color": "#e32424", "opacity": 1}, "encoding": {"angle": {"field": "a", "type": "quantitative", "scale": null}}},
   {"data": {"name": "blueHeads"}, "mark": {"type": "point", "shape": "M 0 0 L 0.55 1.5 L 0 1.15 L -0.55 1.5 Z", "size": 36, "filled": true, "color": "#4f7fd2", "opacity": 1}, "encoding": {"angle": {"field": "a", "type": "quantitative", "scale": null}}},
   {"data": {"name": "texts"}, "mark": {"type": "text", "align": "center", "baseline": "middle", "fontSize": 10.5, "color": "#222"}, "encoding": {"text": {"field": "t"}}},
   {"data": {"values": [{"x": 88, "y": 332, "t": "c"}]}, "mark": {"type": "text", "align": "center", "baseline": "middle", "fontSize": 16, "fontWeight": "bold", "color": "#000"}, "encoding": {"text": {"field": "t"}}}
  ]
 }
]
}
